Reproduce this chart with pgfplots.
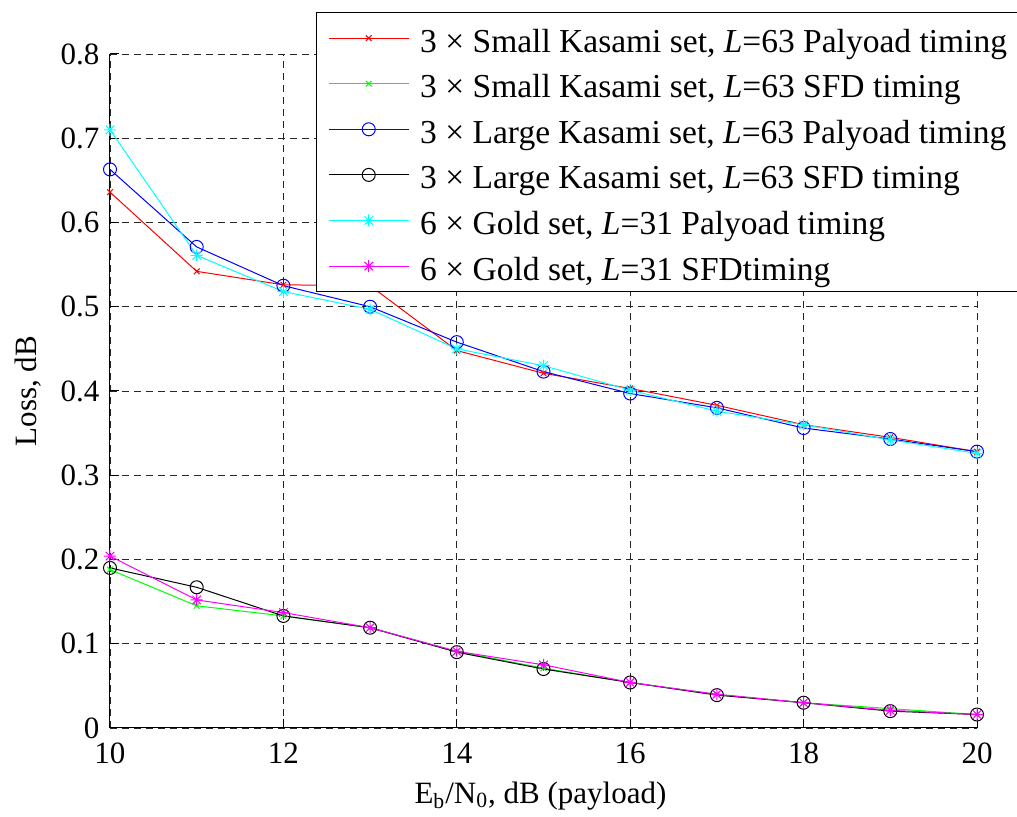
\documentclass[border=0pt]{standalone}
\usepackage{fontspec}
\setmainfont{Liberation Serif}
\usepackage{pgfplots}
\pgfplotsset{compat=1.18}
\definecolor{mred}{rgb}{1,0,0}
\definecolor{mgreen}{rgb}{0,1,0}
\definecolor{mblue}{rgb}{0,0,1}
\definecolor{mcyan}{rgb}{0,1,1}
\definecolor{mmagenta}{rgb}{1,0,1}

\pgfdeclareplotmark{mstar}{%
  \pgfpathmoveto{\pgfqpoint{-\pgfplotmarksize}{0pt}}\pgfpathlineto{\pgfqpoint{\pgfplotmarksize}{0pt}}%
  \pgfpathmoveto{\pgfqpoint{0pt}{-\pgfplotmarksize}}\pgfpathlineto{\pgfqpoint{0pt}{\pgfplotmarksize}}%
  \pgfpathmoveto{\pgfqpoint{-.707\pgfplotmarksize}{-.707\pgfplotmarksize}}\pgfpathlineto{\pgfqpoint{.707\pgfplotmarksize}{.707\pgfplotmarksize}}%
  \pgfpathmoveto{\pgfqpoint{-.707\pgfplotmarksize}{.707\pgfplotmarksize}}\pgfpathlineto{\pgfqpoint{.707\pgfplotmarksize}{-.707\pgfplotmarksize}}%
  \pgfusepathqstroke}

\begin{document}
\fontsize{15.5}{18}\selectfont
\begin{tikzpicture}
\begin{axis}[
  at={(0pt,0pt)}, anchor=south west,
  scale only axis, width=433.5pt, height=337pt,
  xmin=10, xmax=20, ymin=0, ymax=0.8,
  xtick={10,12,14,16,18,20},
  ytick={0,0.1,0.2,0.3,0.4,0.5,0.6,0.7,0.8},
  yticklabels={0,0.1,0.2,0.3,0.4,0.5,0.6,0.7,0.8},
  axis x line=bottom, axis y line=left,
  axis line style={-, line width=0.5pt, black},
  tick align=inside, major tick length=4.3pt,
  tick style={black, line width=0.5pt},
  grid=major,
  grid style={dash pattern=on 3.5pt off 2.5pt, line width=0.45pt, black!85},
  /pgf/number format/assume math mode=true,
  ticklabel style={font=\fontsize{15.5}{18}\selectfont},
  xticklabel style={anchor=base, yshift=-18pt},
  xlabel={E\textsubscript{b}/N\textsubscript{0}, dB (payload)},
  xlabel style={at={(axis description cs:0.4965,-0.1113)}, anchor=base, font=\fontsize{15.5}{18}\selectfont},
  ylabel={Loss, dB},
  ylabel style={at={(axis description cs:-0.08455,0.5)}, anchor=base, font=\fontsize{15.5}{18}\selectfont},
  clip=false,
  legend cell align=left,
  legend image code/.code={\draw[mark repeat=2,mark phase=2,#1] plot coordinates {(0pt,0pt)(20pt,0pt)(40pt,0pt)};},
  legend style={at={(axis description cs:0.2373,1.0623)}, anchor=north west,
    line width=0.5pt, fill=white,
    font=\fontsize{16.75}{20}\selectfont,
    inner xsep=6pt, inner ysep=1.8pt,
    row sep=0.8pt, column sep=3.5pt,
    nodes={inner sep=2pt, text height=16pt, text depth=2pt}},
  every axis plot/.append style={line width=0.5pt},
]
\addplot[color=mred, mark=x, mark size=2pt] coordinates {
(10,0.636) (11,0.542) (12,0.526) (13,0.525) (14,0.448) (15,0.421) (16,0.403) (17,0.383) (18,0.360) (19,0.345) (20,0.328)};
\addlegendentry{3 × Small Kasami set, \textit{L}=63 Palyoad timing}
\addplot[color=mgreen, mark=x, mark size=2pt] coordinates {
(10,0.188) (11,0.145) (12,0.133) (13,0.119) (14,0.091) (15,0.071) (16,0.054) (17,0.040) (18,0.030) (19,0.023) (20,0.016)};
\addlegendentry{3 × Small Kasami set, \textit{L}=63 SFD timing}
\addplot[color=mblue, mark=o, mark size=3.25pt] coordinates {
(10,0.663) (11,0.571) (12,0.525) (13,0.500) (14,0.458) (15,0.423) (16,0.397) (17,0.380) (18,0.356) (19,0.343) (20,0.328)};
\addlegendentry{3 × Large Kasami set, \textit{L}=63 Palyoad timing}
\addplot[color=black, mark=o, mark size=3.25pt] coordinates {
(10,0.190) (11,0.167) (12,0.133) (13,0.119) (14,0.090) (15,0.070) (16,0.054) (17,0.039) (18,0.030) (19,0.020) (20,0.016)};
\addlegendentry{3 × Large Kasami set, \textit{L}=63 SFD timing}
\addplot[color=mcyan, mark=mstar, mark size=3pt] coordinates {
(10,0.710) (11,0.561) (12,0.518) (13,0.497) (14,0.450) (15,0.430) (16,0.401) (17,0.376) (18,0.360) (19,0.342) (20,0.326)};
\addlegendentry{6 × Gold set, \textit{L}=31 Palyoad timing}
\addplot[color=mmagenta, mark=mstar, mark size=3pt] coordinates {
(10,0.204) (11,0.152) (12,0.137) (13,0.119) (14,0.091) (15,0.075) (16,0.054) (17,0.040) (18,0.030) (19,0.021) (20,0.016)};
\addlegendentry{6 × Gold set, \textit{L}=31 SFDtiming}
\end{axis}
\pgfresetboundingbox
\path (-55pt,-44.5pt) rectangle (453.5pt,364pt);
\end{tikzpicture}
\end{document}
